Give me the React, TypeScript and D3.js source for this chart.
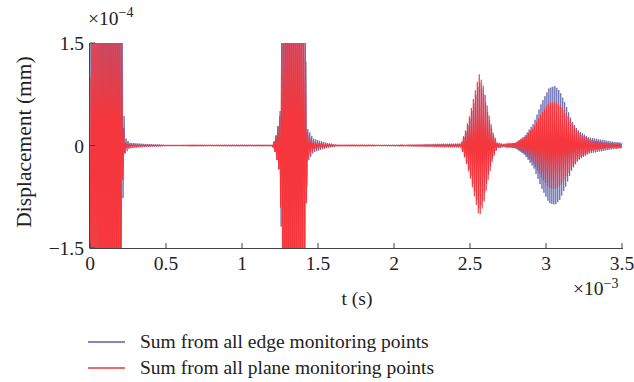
import React from "react";
import * as d3 from "d3";

// Envelope knots (time in ms, amplitude in 1e-4 mm)
const edgeKnotT = [0, 0.005, 0.2, 0.215, 0.23, 0.26, 0.35, 0.5, 1.2, 1.22, 1.25, 1.27, 1.3, 1.38, 1.41, 1.43, 1.47, 1.55, 1.62, 2.0, 2.44, 2.47, 2.5, 2.53, 2.56, 2.59, 2.62, 2.65, 2.68, 2.72, 2.8, 2.86, 2.92, 2.97, 3.02, 3.06, 3.09, 3.13, 3.17, 3.21, 3.28, 3.35, 3.45, 3.5];
const edgeKnotA = [0.4, 3.5, 3.5, 0.9, 0.12, 0.04, 0.025, 0.008, 0.004, 0.1, 0.4, 2.5, 4, 4, 2.2, 0.25, 0.1, 0.04, 0.01, 0.005, 0.02, 0.18, 0.4, 0.66, 0.94, 0.76, 0.45, 0.18, 0.04, 0.02, 0.04, 0.14, 0.33, 0.62, 0.84, 0.87, 0.8, 0.6, 0.36, 0.22, 0.12, 0.09, 0.05, 0.04];
const planeKnotT = [0, 0.005, 0.2, 0.215, 0.23, 0.26, 0.35, 0.5, 1.2, 1.22, 1.25, 1.27, 1.3, 1.38, 1.41, 1.43, 1.47, 1.55, 1.62, 2.0, 2.44, 2.47, 2.5, 2.53, 2.56, 2.59, 2.62, 2.65, 2.68, 2.72, 2.8, 2.86, 2.92, 2.97, 3.02, 3.06, 3.1, 3.14, 3.18, 3.23, 3.3, 3.4, 3.5];
const planeKnotA = [1.0, 3.5, 3.5, 0.4, 0.05, 0.015, 0.01, 0.005, 0.004, 0.12, 0.45, 2.5, 4, 4, 2.2, 0.2, 0.06, 0.02, 0.008, 0.005, 0.02, 0.22, 0.46, 0.76, 1.05, 0.86, 0.5, 0.2, 0.03, 0.015, 0.04, 0.12, 0.27, 0.47, 0.62, 0.64, 0.58, 0.45, 0.3, 0.17, 0.08, 0.04, 0.02];
const halfPeriod = 0.0065; // ms, carrier half-period

const xTicks = [0, 0.5, 1, 1.5, 2, 2.5, 3, 3.5];
const yTicks = [-1.5, 0, 1.5];
const legendLabels = ["Sum from all edge monitoring points", "Sum from all plane monitoring points"];
const colors = ["#5b5ea8", "#f5363c"];

const W = 634, H = 382;
const L = 90, R = 622, T = 43, B = 248;

function build(kt: number[], ka: number[], phase: number) {
  const env = d3.scaleLinear().domain(kt).range(ka).clamp(true);
  const n = Math.floor(3.5 / halfPeriod);
  const pts: [number, number][] = [];
  for (let i = 0; i <= n; i++) {
    const t = i * halfPeriod + phase;
    const s = i % 2 === 0 ? 1 : -1;
    pts.push([t, s * env(t)]);
  }
  return pts;
}

export default function App() {
  const x = d3.scaleLinear().domain([0, 3.5]).range([L, R]);
  const y = d3.scaleLinear().domain([-1.5, 1.5]).range([B, T]);
  const line = d3.line<[number, number]>().x(d => x(d[0])).y(d => y(d[1]));
  const edge = build(edgeKnotT, edgeKnotA, 0.003);
  const plane = build(planeKnotT, planeKnotA, 0);
  const font = "'Liberation Serif', 'Times New Roman', serif";
  return (
    <svg width={W} height={H} style={{ position: "absolute", left: 0, top: 0, background: "#fff" }} fontFamily={font}>
      <defs>
        <clipPath id="plot"><rect x={L} y={T} width={R - L + 2} height={B - T} /></clipPath>
      </defs>
      <g clipPath="url(#plot)">
        <path d={line(edge) || ""} fill="none" stroke={colors[0]} strokeWidth={0.8} />
        <path d={line(plane) || ""} fill="none" stroke={colors[1]} strokeWidth={1.1} />
      </g>
      <g stroke="#444" strokeWidth={1}>
        <line x1={L - 0.5} x2={L - 0.5} y1={T} y2={B} />
        <line x1={L - 0.5} x2={R + 1} y1={B + 0.5} y2={B + 0.5} />
        {xTicks.map(v => <line key={v} x1={x(v)} x2={x(v)} y1={B} y2={B - 5} />)}
        {yTicks.map(v => <line key={v} x1={L} x2={L + 5} y1={y(v)} y2={y(v)} />)}
      </g>
      <g fontSize={19.5} fill="#222">
        {xTicks.map(v => <text key={v} x={x(v)} y={B + 22} textAnchor="middle">{String(v)}</text>)}
        {yTicks.map(v => <text key={v} x={L - 6} y={y(v) + 7} textAnchor="end">{v < 0 ? "\u2212" + Math.abs(v) : String(v)}</text>)}
        <text x={88} y={25}>×10<tspan dy={-8} fontSize={14}>−4</tspan></text>
        <text x={573} y={295}>×10<tspan dy={-7} fontSize={14}>−3</tspan></text>
        <text x={357} y={305} textAnchor="middle">t (s)</text>
        <text transform={`translate(31,142) rotate(-90)`} textAnchor="middle" fontSize={21.5}>Displacement (mm)</text>
      </g>
      <g fontSize={19.5} fill="#222">
        {legendLabels.map((lab, i) => (
          <g key={lab} transform={`translate(0,${342 + i * 26})`}>
            <line x1={88} x2={125} y1={0} y2={0} stroke={colors[i]} strokeWidth={1.5} />
            <text x={140} y={6}>{lab}</text>
          </g>
        ))}
      </g>
    </svg>
  );
}
